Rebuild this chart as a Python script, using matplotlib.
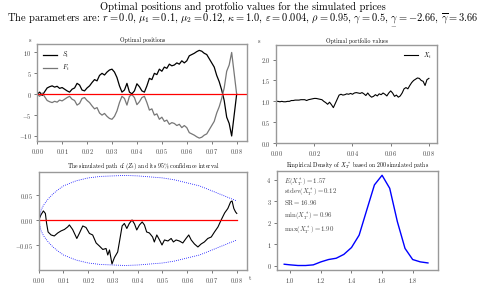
import matplotlib
matplotlib.use('Agg')
import matplotlib.pyplot as plt

plt.rcParams['font.family'] = 'serif'
plt.rcParams['font.serif'] = ['cmr10']
plt.rcParams['mathtext.fontset'] = 'cm'
plt.rcParams['axes.formatter.use_mathtext'] = True
plt.rcParams['axes.unicode_minus'] = True

# positions, step 0.001 from 0 to 0.08
t_pos = [i / 1000 for i in range(81)]
S_t = [0.0, 0.5, -0.3, 0.6, 1.5, 1.8, 2.0, 1.7, 1.9, 1.4, 1.6, 1.2, 0.8, 0.5, 1.2, 1.5, 2.6, 2.2, 1.0, 0.8,
       1.5, 2.0, 2.8, 3.5, 3.2, 4.5, 5.0, 4.6, 5.3, 5.8, 6.0, 5.3, 4.0, 2.0, 0.5, 1.0, 2.6, 0.5, 0.1, 0.8,
       2.5, 1.8, 0.8, 0.5, 2.0, 3.8, 3.5, 5.0, 4.7, 6.0, 5.5, 6.5, 6.2, 7.2, 6.8, 7.0, 7.5, 7.2, 8.0, 7.5,
       8.0, 9.2, 9.5, 9.8, 10.2, 10.5, 10.3, 9.8, 9.5, 8.5, 7.5, 6.5, 4.5, 3.0, 1.0, -1.5, -5.5, -7.0, -10.0, -5.0,
       0.0]
F_t = [0.0, -0.5, 0.3, -0.6, -1.5, -1.8, -2.0, -1.7, -1.9, -1.4, -1.6, -1.2, -0.8, -0.5, -1.2, -1.5, -2.6, -2.2, -1.0, -0.8,
       -1.5, -2.0, -2.8, -3.5, -3.2, -4.5, -5.0, -4.6, -5.3, -5.8, -6.0, -5.3, -4.0, -2.0, -0.5, -1.0, -2.6, -0.5, -0.1, -0.8,
       -2.5, -1.8, -0.8, -0.5, -2.0, -3.8, -3.5, -5.0, -4.7, -6.0, -5.5, -6.5, -6.2, -7.2, -6.8, -7.0, -7.5, -7.2, -8.0, -7.5,
       -8.0, -9.2, -9.5, -9.8, -10.2, -10.5, -10.3, -9.8, -9.5, -8.5, -7.5, -6.5, -4.5, -3.0, -1.0, 1.5, 5.5, 7.0, 10.0, 5.0,
       0.0]

# portfolio values
X_t = [1.0, 1.0, 0.99, 1.0, 0.99, 0.99, 1.0, 1.0, 1.02, 1.02, 1.03, 1.03, 1.03, 1.04, 1.04, 1.04, 1.02, 1.04, 1.05, 1.06,
       1.07, 1.07, 1.06, 1.05, 1.04, 1.0, 0.97, 0.93, 0.98, 0.92, 0.85, 0.95, 1.05, 1.15, 1.17, 1.15, 1.16, 1.18, 1.17, 1.19,
       1.17, 1.2, 1.21, 1.2, 1.19, 1.21, 1.18, 1.14, 1.2, 1.14, 1.1, 1.12, 1.16, 1.13, 1.18, 1.16, 1.2, 1.17, 1.13, 1.2,
       1.25, 1.2, 1.12, 1.15, 1.1, 1.13, 1.2, 1.3, 1.33, 1.3, 1.38, 1.45, 1.5, 1.53, 1.56, 1.55, 1.5, 1.48, 1.38, 1.52,
       1.55]

# simulated path of Z
t_z = [0.0, 0.0009, 0.0019, 0.0027, 0.0032, 0.0038, 0.005, 0.0063, 0.0077, 0.009, 0.0104, 0.0117, 0.0124, 0.0137,
       0.0154, 0.0164, 0.0178, 0.0191, 0.0205, 0.0218, 0.0232, 0.0245, 0.0259, 0.0272, 0.0279, 0.0286, 0.0292, 0.0296,
       0.0306, 0.0319, 0.0326, 0.0337, 0.0346, 0.0356, 0.0366, 0.0377, 0.0387, 0.0396, 0.0407, 0.0418, 0.0427, 0.0436,
       0.0447, 0.046, 0.0467, 0.0477, 0.0488, 0.0498, 0.0508, 0.0522, 0.0535, 0.0544, 0.0555, 0.0568, 0.0582, 0.0595,
       0.0606, 0.0616, 0.0629, 0.0643, 0.0656, 0.0669, 0.0683, 0.0697, 0.071, 0.0724, 0.0737, 0.0751, 0.0764, 0.0775,
       0.0781, 0.0788, 0.0795, 0.08]
Z_t = [0.0, 0.011, 0.019, 0.014, -0.006, -0.023, -0.029, -0.031, -0.025, -0.021, -0.018, -0.013, -0.009, -0.018,
       -0.036, -0.026, -0.011, -0.014, -0.026, -0.029, -0.045, -0.051, -0.058, -0.056, -0.069, -0.059, -0.076, -0.087,
       -0.074, -0.063, -0.043, -0.011, -0.006, -0.016, -0.006, 0.001, -0.007, -0.019, -0.009, -0.003, -0.009, -0.023,
       -0.025, -0.033, -0.043, -0.029, -0.039, -0.049, -0.039, -0.041, -0.036, -0.043, -0.039, -0.041, -0.045, -0.036,
       -0.029, -0.039, -0.047, -0.053, -0.047, -0.043, -0.036, -0.033, -0.023, -0.013, 0.001, 0.015, 0.024, 0.037,
       0.039, 0.024, 0.017, 0.014]

# 95% confidence band
t_ci = [0.0, 0.001, 0.002, 0.004, 0.006, 0.008, 0.010, 0.015, 0.020, 0.025, 0.030, 0.035, 0.040, 0.045,
        0.050, 0.055, 0.060, 0.065, 0.070, 0.075, 0.080]
ci_up = [0.0, 0.021, 0.031, 0.044, 0.054, 0.062, 0.069, 0.079, 0.085, 0.088, 0.089, 0.090, 0.089, 0.087,
         0.085, 0.081, 0.075, 0.069, 0.059, 0.049, 0.039]
ci_low = [0.0, -0.021, -0.031, -0.044, -0.054, -0.062, -0.069, -0.079, -0.085, -0.088, -0.089, -0.090, -0.089, -0.087,
          -0.085, -0.081, -0.075, -0.069, -0.059, -0.049, -0.039]

# density of terminal wealth
x_dens = [0.96, 1.0, 1.05, 1.1, 1.15, 1.2, 1.25, 1.3, 1.35, 1.4, 1.45, 1.5, 1.55, 1.6, 1.65, 1.7, 1.75, 1.8, 1.85, 1.9]
y_dens = [0.06, 0.03, 0.0, 0.0, 0.03, 0.17, 0.28, 0.34, 0.52, 0.84, 1.42, 2.6, 3.77, 4.22, 3.61, 2.05, 0.8, 0.28, 0.17, 0.12]
stats = ['$E(X_T^*) = 1.57$', 'stdev$(X_T^*) = 0.12$', 'SR$ = 16.96$', r'$\min(X_T^*) = 0.96$', r'$\max(X_T^*) = 1.90$']
stats_y = [3.8, 3.33, 2.85, 2.22, 1.55]

spine_col = '#999999'
tick_col = '#444444'


def style(ax):
    for s in ax.spines.values():
        s.set_color(spine_col)
        s.set_linewidth(1.0)
    ax.tick_params(labelsize=4.6, colors=tick_col, length=2, width=0.5, pad=2)


fig = plt.figure(figsize=(4.86, 3.0), dpi=100)
fig.suptitle('Optimal positions and protfolio values for the simulated prices\n'
             r'The parameters are: $r = 0.0$, $\mu_1 = 0.1$, $\mu_2 = 0.12$, $\kappa = 1.0$, '
             r'$\varepsilon = 0.004$, $\rho = 0.95$, $\gamma = 0.5$, $\underset{-}{\gamma} = -2.66$, '
             r'$\overline{\gamma} = 3.66$',
             fontsize=7.5, y=0.995, linespacing=1.0)

ax1 = fig.add_axes([0.0765, 0.53, 0.432, 0.323])
ax1.plot(t_pos, S_t, color='black', lw=0.9, label='$S_t$')
ax1.plot(t_pos, F_t, color='#777777', lw=0.9, label='$F_t$')
ax1.axhline(0, color='red', lw=0.9)
ax1.set_xlim(0, 0.0842)
ax1.set_ylim(-11.2, 12)
ax1.set_xticks([i / 100 for i in range(9)])
ax1.set_yticks([-10, -5, 0, 5, 10])
ax1.set_title('Optimal positions', fontsize=4.2, pad=1.5)
ax1.legend(loc='upper left', frameon=False, fontsize=4.5, handlelength=2.2)
ax1.text(-0.03, 1.02, 's', transform=ax1.transAxes, fontsize=4.5, color=tick_col, ha='right')
style(ax1)

ax2 = fig.add_axes([0.568, 0.523, 0.331, 0.327])
ax2.plot(t_pos, X_t, color='black', lw=0.8, label='$X_t$')
ax2.set_xlim(0, 0.0842)
ax2.set_ylim(0, 2.35)
ax2.set_xticks([0.0, 0.02, 0.04, 0.06, 0.08])
ax2.set_yticks([0.0, 0.5, 1.0, 1.5, 2.0])
ax2.set_title('Optimal portfolio values', fontsize=4.2, pad=1.5)
ax2.legend(loc='upper right', frameon=False, fontsize=4.5, handlelength=2.2)
ax2.text(-0.1, 1.02, 's', transform=ax2.transAxes, fontsize=4.5, color=tick_col, ha='right')
style(ax2)

ax3 = fig.add_axes([0.0796, 0.1, 0.429, 0.327])
ax3.plot(t_z, Z_t, color='black', lw=0.8)
ax3.plot(t_ci, ci_up, color='blue', lw=0.6, ls=(0, (1, 1.5)))
ax3.plot(t_ci, ci_low, color='blue', lw=0.6, ls=(0, (1, 1.5)))
ax3.plot([t_pos[0], t_pos[-1]], [0, 0], color='red', lw=0.9)
ax3.set_xlim(0, 0.0842)
ax3.set_ylim(-0.099, 0.097)
ax3.set_xticks([i / 100 for i in range(9)])
ax3.set_yticks([-0.05, 0.0, 0.05])
ax3.set_title('The simulated path of $(Z_t)$ and its 95% confidence interval', fontsize=4.2, pad=1.5)
ax3.text(1.01, -0.1, 't', transform=ax3.transAxes, fontsize=4.5, color=tick_col)
style(ax3)

ax4 = fig.add_axes([0.570, 0.1, 0.331, 0.33])
ax4.plot(x_dens, y_dens, color='blue', lw=1.0)
ax4.set_xticks([1.0, 1.2, 1.4, 1.6, 1.8])
ax4.set_yticks([0, 1, 2, 3, 4])
ax4.set_xlim(0.913, 1.965)
ax4.set_ylim(-0.21, 4.42)
ax4.set_title('Empirical Density of $X_T^*$ based on 200 simulated paths', fontsize=4.2, pad=1.5)
for s, yy in zip(stats, stats_y):
    ax4.text(x_dens[0], yy, s, fontsize=4.9, color=tick_col)
style(ax4)

fig.savefig('out.png', dpi=100)
